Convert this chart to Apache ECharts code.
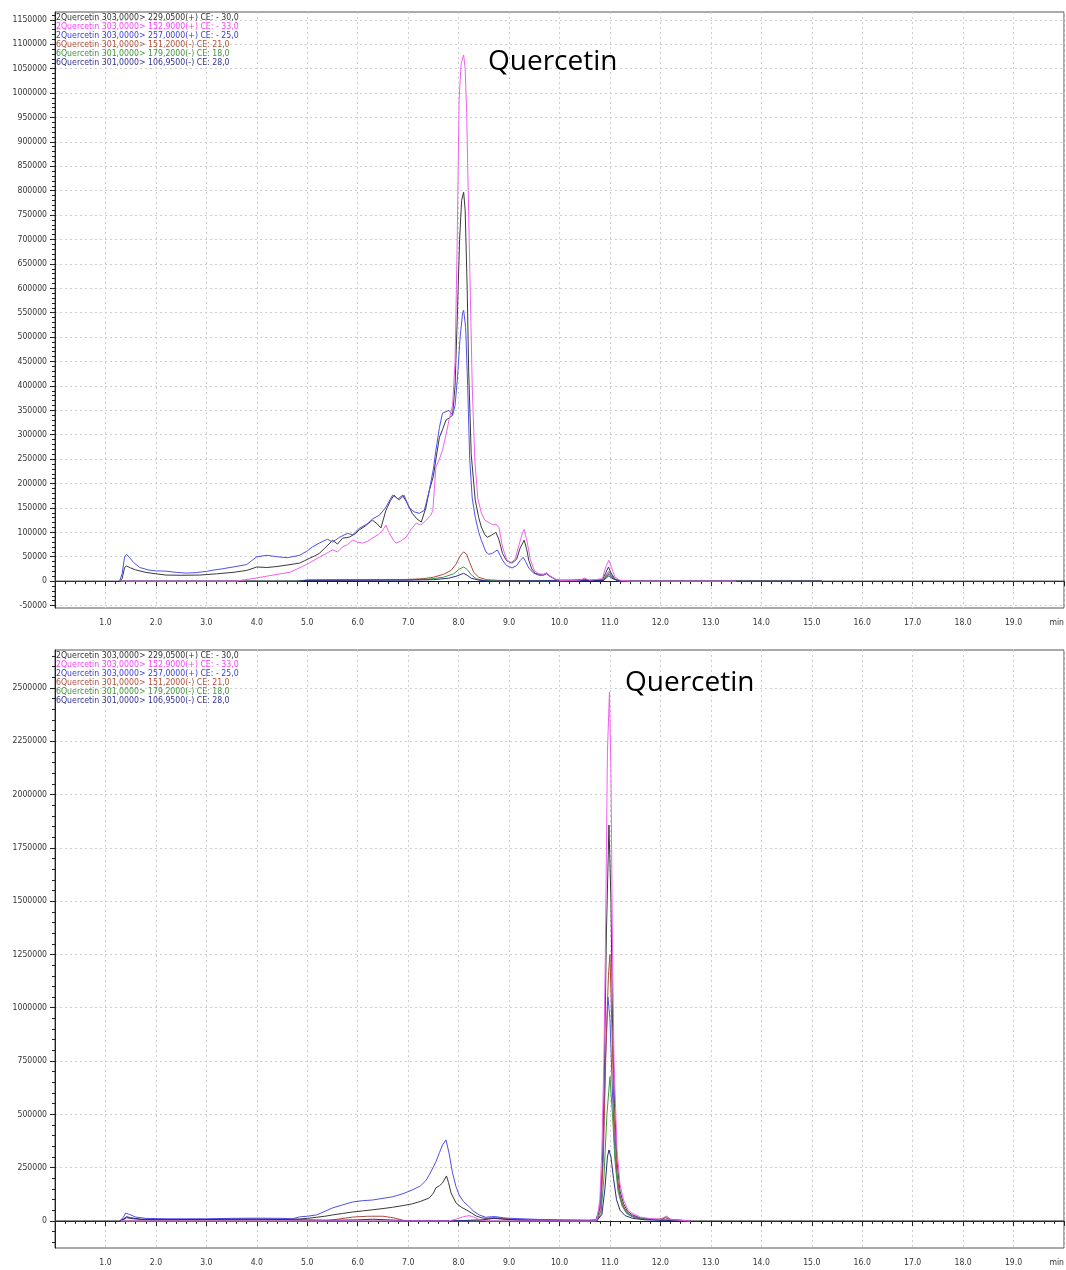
<!DOCTYPE html>
<html><head><meta charset="utf-8">
<script src="https://cdn.jsdelivr.net/npm/echarts@6/dist/echarts.min.js"></script>
<style>html,body{margin:0;padding:0;background:#fff;overflow:hidden}#c{width:1066px;height:1270px}</style>
</head><body><div id="c"></div>
<script>
// ---- legend / series names ----
const seriesNames = [
  '2Quercetin 303,0000> 229,0500(+) CE: - 30,0',
  '2Quercetin 303,0000> 152,9000(+) CE: - 33,0',
  '2Quercetin 303,0000> 257,0000(+) CE: - 25,0',
  '6Quercetin 301,0000> 151,2000(-) CE: 21,0',
  '6Quercetin 301,0000> 179,2000(-) CE: 18,0',
  '6Quercetin 301,0000> 106,9500(-) CE: 28,0'
];
const lineColors = ['#3a3a3a', '#f060f0', '#5050ee', '#b04a3a', '#3a9a3a', '#2a2a8a'];
const legendColors = ['#333333', '#ff40ff', '#3d3dd6', '#b4503c', '#3c963c', '#333399'];
const annotation = 'Quercetin';

// ---- tick labels ----
const topYTicks = [-50000,0,50000,100000,150000,200000,250000,300000,350000,400000,450000,500000,550000,600000,650000,700000,750000,800000,850000,900000,950000,1000000,1050000,1100000,1150000];
const bottomYTicks = [0,250000,500000,750000,1000000,1250000,1500000,1750000,2000000,2250000,2500000];

// ---- top chromatogram traces [time(min), intensity] ----
const top229 = [[0,0],[1.28,0],[1.33,5000],[1.38,28000],[1.42,31000],[1.5,27000],[1.6,23000],[1.8,18000],[2.0,15000],[2.2,12500],[2.5,12000],[2.87,12500],[3.2,15000],[3.53,18000],[3.8,22000],[4.0,29000],[4.2,28000],[4.4,30000],[4.6,33000],[4.85,37000],[4.95,42000],[5.05,47000],[5.15,52000],[5.24,57000],[5.35,68000],[5.45,78000],[5.5,84000],[5.6,76000],[5.7,88000],[5.83,90000],[5.95,97000],[6.03,105000],[6.15,113000],[6.29,125000],[6.38,118000],[6.46,109000],[6.56,145000],[6.65,165000],[6.72,176000],[6.8,168000],[6.89,176000],[6.98,160000],[7.08,139000],[7.17,128000],[7.26,121000],[7.35,150000],[7.42,186000],[7.5,215000],[7.55,250000],[7.62,295000],[7.68,310000],[7.75,330000],[7.82,335000],[7.88,340000],[7.93,400000],[7.98,560000],[8.02,700000],[8.06,780000],[8.1,797000],[8.13,760000],[8.17,600000],[8.2,430000],[8.25,260000],[8.33,166000],[8.4,130000],[8.45,111000],[8.52,95000],[8.57,90000],[8.65,94000],[8.74,100000],[8.8,85000],[8.87,57000],[8.95,42000],[9.06,37000],[9.15,45000],[9.22,68000],[9.3,84000],[9.35,65000],[9.39,43000],[9.45,25000],[9.52,16000],[9.59,14000],[9.68,13000],[9.74,16000],[9.82,10000],[9.92,4000],[10.0,2000],[10.3,1500],[10.5,4000],[10.6,1500],[10.85,3000],[10.92,18000],[10.97,29000],[11.02,17000],[11.1,4000],[11.2,1000],[11.5,0],[20,0]];
const top1529 = [[1.3,0],[3.6,0],[3.7,2000],[3.9,5000],[4.19,10000],[4.4,14000],[4.65,18000],[4.8,25000],[4.9,30000],[5.04,37000],[5.15,44000],[5.24,49000],[5.35,55000],[5.5,64000],[5.6,60000],[5.7,70000],[5.8,75000],[5.9,84000],[6.0,80000],[6.1,78000],[6.2,82000],[6.29,88000],[6.4,95000],[6.5,105000],[6.56,115000],[6.62,100000],[6.7,85000],[6.76,78000],[6.85,82000],[6.96,90000],[7.05,105000],[7.16,119000],[7.25,115000],[7.36,125000],[7.45,135000],[7.49,145000],[7.52,190000],[7.55,234000],[7.62,250000],[7.68,268000],[7.75,300000],[7.81,330000],[7.88,360000],[7.93,450000],[7.97,680000],[8.01,986000],[8.05,1060000],[8.1,1078000],[8.13,1050000],[8.16,960000],[8.19,800000],[8.23,600000],[8.27,400000],[8.32,250000],[8.38,170000],[8.45,140000],[8.52,125000],[8.6,120000],[8.68,115000],[8.74,117000],[8.8,110000],[8.87,70000],[8.95,45000],[9.03,37000],[9.12,45000],[9.2,75000],[9.27,100000],[9.3,106000],[9.36,80000],[9.42,45000],[9.5,22000],[9.59,15000],[9.68,14000],[9.74,17000],[9.82,10000],[9.92,4000],[10.0,1500],[10.4,2000],[10.5,6000],[10.6,2000],[10.85,5000],[10.92,30000],[10.98,43000],[11.03,28000],[11.1,8000],[11.2,2000],[11.4,0],[13.5,0]];
const top257 = [[1.28,0],[1.33,15000],[1.38,50000],[1.42,55000],[1.48,48000],[1.56,38000],[1.68,28000],[1.85,23000],[2.0,21000],[2.2,20500],[2.4,18000],[2.6,16500],[2.8,17500],[3.0,20000],[3.13,22500],[3.3,25000],[3.53,29000],[3.8,34000],[3.9,42000],[4.0,50000],[4.2,53000],[4.4,50000],[4.6,48000],[4.85,53000],[5.0,62000],[5.1,70000],[5.24,78000],[5.4,86000],[5.5,80000],[5.64,90000],[5.8,98000],[5.9,95000],[6.03,108000],[6.2,118000],[6.3,128000],[6.43,135000],[6.55,150000],[6.69,176000],[6.76,172000],[6.82,166000],[6.92,176000],[7.02,150000],[7.12,142000],[7.22,139000],[7.32,145000],[7.42,186000],[7.5,230000],[7.55,268000],[7.62,315000],[7.68,344000],[7.81,350000],[7.88,340000],[7.93,360000],[7.98,420000],[8.03,500000],[8.08,550000],[8.1,555000],[8.14,520000],[8.18,400000],[8.22,250000],[8.27,170000],[8.33,131000],[8.4,100000],[8.45,84000],[8.54,60000],[8.6,55000],[8.67,57000],[8.77,64000],[8.87,43000],[8.95,32000],[9.06,27000],[9.15,32000],[9.22,42000],[9.28,49000],[9.33,40000],[9.39,27000],[9.48,17000],[9.59,12000],[9.68,12000],[9.74,15000],[9.82,9000],[9.92,3000],[10.0,1500],[10.5,3000],[10.6,1000],[10.88,3000],[10.93,14000],[10.98,20000],[11.03,12000],[11.12,2000],[11.3,0],[15.2,0]];
const top1512 = [[1.3,0],[4.8,0],[5.0,2000],[6.0,3000],[7.0,3500],[7.3,5000],[7.5,8000],[7.7,14000],[7.85,22000],[7.95,35000],[8.03,52000],[8.1,60000],[8.16,55000],[8.22,38000],[8.3,18000],[8.4,8000],[8.55,3000],[8.8,1500],[10.0,0],[10.85,2000],[10.93,10000],[10.98,14000],[11.04,8000],[11.15,1000],[11.3,0],[15.2,0]];
const top1792 = [[1.3,0],[4.8,0],[5.0,2500],[6.0,3000],[7.0,3000],[7.4,4000],[7.7,8000],[7.9,15000],[8.02,25000],[8.1,29000],[8.17,24000],[8.25,13000],[8.35,5000],[8.5,1500],[8.8,0],[10.88,2000],[10.94,12000],[10.98,16000],[11.04,9000],[11.15,1000],[11.3,0],[15.2,0]];
const top10695 = [[1.3,0],[4.8,0],[5.0,1500],[7.0,2000],[7.5,3000],[7.8,6000],[7.95,10000],[8.05,14000],[8.1,16000],[8.17,12000],[8.25,6000],[8.4,2000],[8.6,0],[10.88,1500],[10.94,8000],[10.98,11000],[11.04,6000],[11.15,1000],[11.3,0],[15.2,0]];

// ---- bottom chromatogram traces ----
const bot229 = [[0,0],[1.28,0],[1.35,5000],[1.42,15000],[1.55,10000],[1.8,6000],[2.5,5000],[3.5,8000],[4.5,8000],[4.85,9000],[5.0,12000],[5.18,17000],[5.35,22000],[5.5,28000],[5.7,35000],[5.9,42000],[6.1,47000],[6.29,52000],[6.5,58000],[6.69,64000],[6.9,72000],[7.08,80000],[7.25,92000],[7.42,108000],[7.5,130000],[7.55,155000],[7.62,165000],[7.68,178000],[7.76,211000],[7.8,180000],[7.85,131000],[7.95,84000],[8.05,65000],[8.15,52000],[8.25,38000],[8.35,23000],[8.45,15000],[8.54,12000],[8.7,14000],[8.9,10000],[9.2,6000],[9.6,4000],[10.0,3000],[10.5,2000],[10.74,2000],[10.8,60000],[10.85,250000],[10.89,700000],[10.93,1350000],[10.98,1857000],[11.02,1500000],[11.05,950000],[11.09,550000],[11.14,280000],[11.2,140000],[11.27,80000],[11.35,45000],[11.45,28000],[11.6,14000],[11.8,8000],[12.0,6000],[12.1,15000],[12.2,5000],[12.6,0],[20,0]];
const bot1529 = [[1.3,0],[7.8,0],[7.95,8000],[8.1,20000],[8.21,25000],[8.3,18000],[8.41,6000],[8.55,0],[10.7,0],[10.74,5000],[10.8,100000],[10.84,333000],[10.88,755000],[10.91,1280000],[10.95,2200000],[10.99,2480000],[11.02,2100000],[11.05,1280000],[11.08,755000],[11.14,333000],[11.2,170000],[11.27,98000],[11.35,55000],[11.43,38000],[11.6,18000],[11.77,12000],[12.0,8000],[12.1,20000],[12.2,6000],[12.6,0]];
const bot257 = [[1.28,0],[1.35,15000],[1.4,37000],[1.48,30000],[1.6,18000],[1.8,12000],[2.2,10000],[3.0,10000],[3.5,12000],[4.0,13000],[4.5,12000],[4.7,10000],[4.85,19000],[5.0,22000],[5.18,28000],[5.35,45000],[5.5,61000],[5.7,75000],[5.9,89000],[6.1,95000],[6.29,98000],[6.5,106000],[6.69,113000],[6.9,128000],[7.08,145000],[7.25,165000],[7.36,192000],[7.45,230000],[7.55,277000],[7.62,320000],[7.68,356000],[7.75,380000],[7.81,319000],[7.88,225000],[7.95,160000],[8.01,122000],[8.1,90000],[8.21,66000],[8.3,45000],[8.41,28000],[8.54,17000],[8.65,20000],[8.74,20000],[8.9,14000],[9.14,11000],[9.6,7000],[10.1,5000],[10.6,4000],[10.72,6000],[10.8,60000],[10.86,300000],[10.91,750000],[10.96,1050000],[11.0,950000],[11.05,600000],[11.1,320000],[11.16,160000],[11.24,80000],[11.33,40000],[11.45,22000],[11.6,12000],[11.9,6000],[12.6,0]];
const bot1512 = [[1.3,0],[5.3,0],[5.6,8000],[5.9,18000],[6.2,22000],[6.5,22000],[6.7,15000],[6.9,3000],[7.1,0],[8.4,0],[8.6,12000],[8.8,14000],[9.0,8000],[9.3,2000],[10.74,0],[10.82,50000],[10.87,300000],[10.92,800000],[10.97,1150000],[11.0,1250000],[11.04,900000],[11.08,500000],[11.14,220000],[11.2,110000],[11.28,60000],[11.38,30000],[11.55,12000],[11.8,6000],[12.05,10000],[12.12,22000],[12.2,8000],[12.6,0]];
const bot1792 = [[1.3,0],[10.74,0],[10.82,30000],[10.88,200000],[10.94,500000],[11.0,677000],[11.05,500000],[11.1,280000],[11.16,140000],[11.24,70000],[11.33,35000],[11.45,18000],[11.7,8000],[12.0,4000],[12.6,0]];
const bot10695 = [[1.28,0],[1.35,8000],[1.42,20000],[1.5,15000],[1.7,8000],[2.0,6000],[3.0,7000],[4.0,8000],[4.7,6000],[5.0,5000],[5.5,3000],[6.0,5000],[6.3,8000],[6.6,5000],[7.0,1000],[8.0,1000],[8.5,6000],[8.7,12000],[8.9,8000],[9.3,3000],[10.0,1500],[10.74,1500],[10.84,30000],[10.9,150000],[10.95,300000],[10.98,333000],[11.02,300000],[11.07,200000],[11.13,100000],[11.2,50000],[11.3,25000],[11.45,12000],[11.7,5000],[12.6,0]];

const topData = [top229, top1529, top257, top1512, top1792, top10695];
const botData = [bot229, bot1529, bot257, bot1512, bot1792, bot10695];

// ---- build option ----
const FONT = '"Liberation Sans Narrow","DejaVu Sans Condensed","Liberation Sans",sans-serif';
const minorTop = [];
for (const v of topYTicks) { for (let k = 1; k < 5; k++) minorTop.push(v + k * 10000); }
const minorBot = [-100000, -50000];
for (const v of bottomYTicks) { for (let k = 1; k < 5; k++) minorBot.push(v + k * 50000); }

function xAxis(gi) {
  return {
    type: 'value', gridIndex: gi, min: 0, max: 20, interval: 1,
    axisLine: { lineStyle: { color: '#222', width: 1 } },
    axisTick: { length: 5, lineStyle: { color: '#222' } },
    minorTick: { show: true, splitNumber: 5, length: 3, lineStyle: { color: '#222' } },
    splitLine: { show: true, lineStyle: { color: '#cfcfcf', type: [2, 3] } },
    axisLabel: {
      fontFamily: FONT, fontSize: 8.6, color: '#333', margin: 10,
      showMinLabel: true, showMaxLabel: true, alignMaxLabel: 'right',
      formatter: v => v === 0 ? '' : (v === 20 ? 'min' : v.toFixed(1))
    }
  };
}
function yAxisMain(gi, min, max, ticks) {
  return {
    type: 'value', gridIndex: gi, min: min, max: max, position: 'left',
    axisLine: { show: true, lineStyle: { color: '#222', width: 1 } },
    axisTick: { show: true, length: 5, customValues: ticks, lineStyle: { color: '#222' } },
    splitLine: { show: true, lineStyle: { color: '#cfcfcf', type: [2, 3] } },
    axisLabel: { customValues: ticks, fontFamily: FONT, fontSize: 8.6, color: '#333', margin: 8, formatter: v => String(v) }
  };
}
function yAxisMinor(gi, min, max, ticks) {
  return {
    type: 'value', gridIndex: gi, min: min, max: max, position: 'left', offset: 0,
    axisLine: { show: false },
    axisTick: { show: true, length: 3, customValues: ticks, lineStyle: { color: '#222' } },
    splitLine: { show: false },
    axisLabel: { show: false }
  };
}

const series = [];
const order = [0, 2, 3, 4, 5, 1];
[topData, botData].forEach((set, gi) => {
  order.forEach(i => {
    series.push({
      type: 'line', name: seriesNames[i], xAxisIndex: gi, yAxisIndex: gi * 2,
      data: set[i], showSymbol: false, symbol: 'none', smooth: false,
      lineStyle: { color: lineColors[i], width: 1 }, itemStyle: { color: lineColors[i] },
      emphasis: { disabled: true }, silent: true
    });
  });
});

function legend(top) {
  return {
    orient: 'vertical', left: 51, top: top, padding: 0, itemGap: 0,
    itemWidth: 0, itemHeight: 8, icon: 'none', selectedMode: false,
    textStyle: { fontFamily: FONT, fontSize: 8.7, lineHeight: 8, padding: 0 },
    data: seriesNames.map((n, i) => ({ name: n, textStyle: { color: legendColors[i] } }))
  };
}

const option = {
  animation: false,
  backgroundColor: '#fff',
  grid: [
    { left: 55, right: 2, top: 12, height: 596, show: true, borderColor: '#555', borderWidth: 1, outerBoundsMode: 'none', containLabel: false },
    { left: 55, right: 2, top: 650, height: 598, show: true, borderColor: '#555', borderWidth: 1, outerBoundsMode: 'none', containLabel: false }
  ],
  xAxis: [xAxis(0), xAxis(1)],
  yAxis: [
    yAxisMain(0, -55000, 1166000, topYTicks), yAxisMinor(0, -55000, 1166000, minorTop),
    yAxisMain(1, -127000, 2678000, bottomYTicks), yAxisMinor(1, -127000, 2678000, minorBot)
  ],
  legend: [legend(13), legend(651)],
  graphic: [
    { type: 'text', x: 488, y: 62, z: 100, zlevel: 1, style: { text: annotation, fontFamily: '"Open Sans",sans-serif', fontSize: 28, fill: '#000', verticalAlign: 'middle' } },
    { type: 'text', x: 625, y: 683, z: 100, zlevel: 1, style: { text: annotation, fontFamily: '"Open Sans",sans-serif', fontSize: 28, fill: '#000', verticalAlign: 'middle' } }
  ],
  series: series
};
const chart = echarts.init(document.getElementById('c'), null, { renderer: 'canvas' });
chart.setOption(option);
</script></body></html>
